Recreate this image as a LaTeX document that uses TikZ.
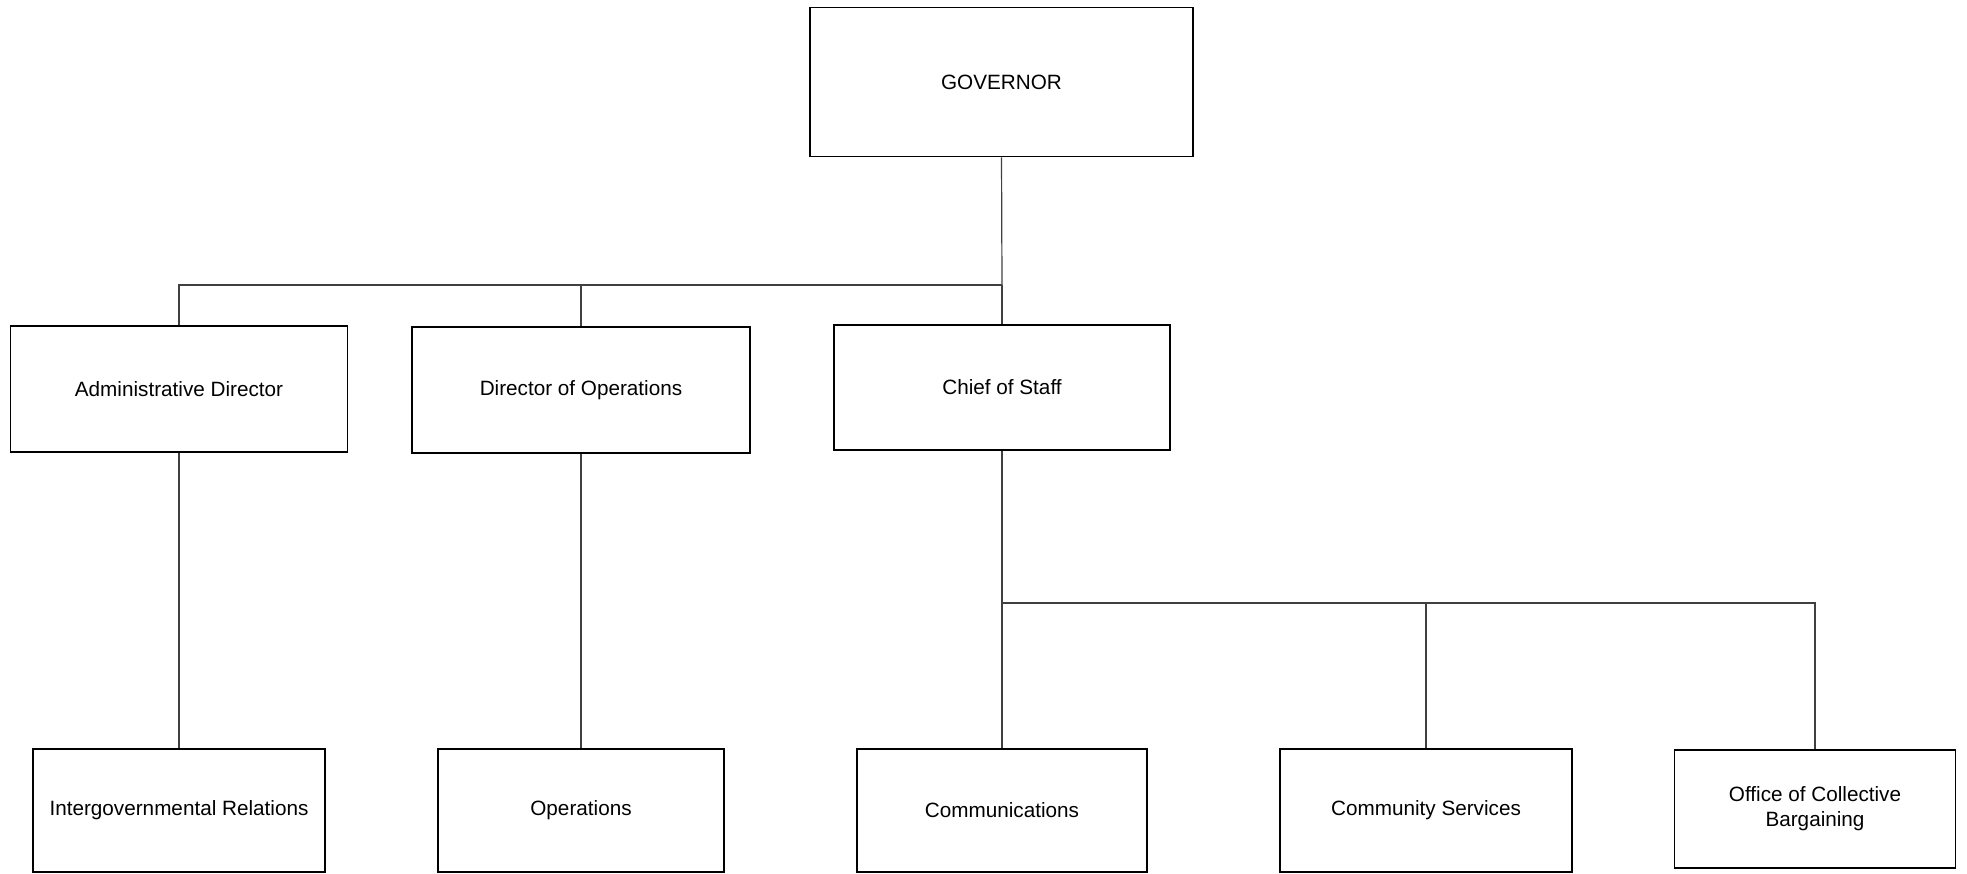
\documentclass[tikz,border=0pt]{standalone}
\usepackage{fontspec}
\setmainfont{Liberation Sans}
\begin{document}
\begin{tikzpicture}[x=1pt,y=-1pt,
  box/.style={draw=black, line width=1.8pt, fill=white, rectangle, inner sep=0pt,
    align=center, font=\fontsize{20.7}{25}\selectfont},
  conn/.style={draw=black!75, line width=1.2pt}]
\useasboundingbox (0,0) rectangle (1967,873);
% nodes
\node[box, minimum width=383pt, minimum height=149pt] (gov) at (1001.5,82) {GOVERNOR};
\node[box, minimum width=337pt, minimum height=126pt] (adm) at (179,389) {Administrative Director};
\node[box, minimum width=338pt, minimum height=126pt] (dops) at (581,390) {Director of Operations};
\node[box, minimum width=336pt, minimum height=125pt] (chief) at (1002,387.5) {Chief of Staff};
\node[box, minimum width=292pt, minimum height=123pt] (ir) at (179,810.5) {Intergovernmental Relations};
\node[box, minimum width=286pt, minimum height=123pt] (ops) at (581,810.5) {Operations};
\node[box, minimum width=290pt, minimum height=123pt] (comm) at (1002,810.5) {Communications};
\node[box, minimum width=292pt, minimum height=123pt] (cs) at (1426,810.5) {Community Services};
\node[box, minimum width=281pt, minimum height=118pt] (ocb) at (1815,809) {Office of Collective\\Bargaining};
% junctions
\coordinate (j1) at (1002,285);
\coordinate (j2) at (1002,603);
% connectors
\draw[conn] (gov.south) -- (j1);
\draw[conn] (j1) -| (adm.north);
\draw[conn] (dops.north) -- (dops.north |- j1);
\draw[conn] (j1) -- (chief.north);
\draw[conn] (adm.south) -- (ir.north);
\draw[conn] (dops.south) -- (ops.north);
\draw[conn] (chief.south) -- (comm.north);
\draw[conn] (j2) -| (ocb.north);
\draw[conn] (cs.north) -- (cs.north |- j2);
\end{tikzpicture}
\end{document}
